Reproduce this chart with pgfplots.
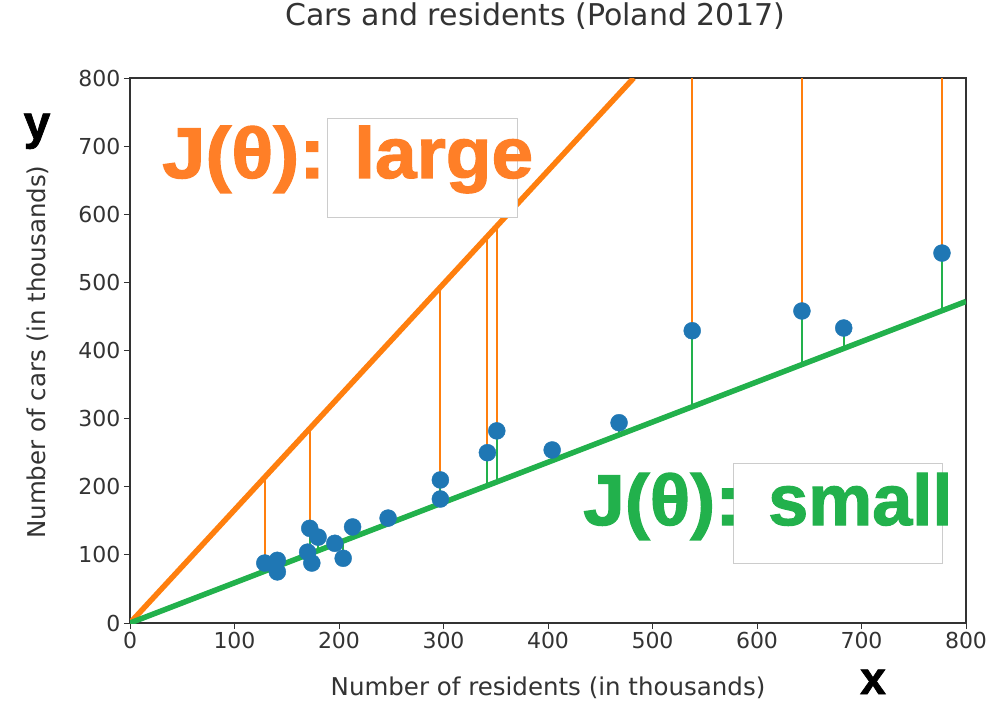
\documentclass[border=0pt]{standalone}
\usepackage{pgfplots}
\pgfplotsset{compat=1.18}
\usepackage{fontspec}
\setmainfont{DejaVu Sans}
\newfontfamily\annfont{Liberation Sans}[BoldFeatures={FakeBold=1.6}]
\definecolor{tblue}{HTML}{1F77B4}
\definecolor{torange}{HTML}{FF7F0E}
\definecolor{tgreen}{HTML}{22B14C}
\definecolor{aorange}{HTML}{FF7F27}
\definecolor{spine}{HTML}{333333}

\pgfplotstableread{
x y
129 88
141 92
141 75
172 139
170 104
174 88
180 126
196 117
204 95
213 141
247 154
297 210
297 182
342 250
351 282
404 254
468 294
538 429
643 458
683 433
777 543
}\cities

\begin{document}
\begin{tikzpicture}
\useasboundingbox (0,0) rectangle (993pt,702pt);
\begin{axis}[
  at={(130pt,79pt)}, anchor=south west,
  scale only axis, width=836pt, height=545pt,
  xmin=0, xmax=800, ymin=0, ymax=800,
  xtick={0,100,...,800}, ytick={0,100,...,800},
  xtick pos=bottom, ytick pos=left,
  tick align=outside, major tick length=6pt,
  every tick/.style={spine, line width=1pt},
  axis line style={spine, line width=1.2pt},
  tick label style={font=\fontsize{22}{26}\selectfont, text=spine},
  /pgf/number format/assume math mode=true,
  xlabel={Number of residents (in thousands)},
  ylabel={Number of cars (in thousands)},
  label style={font=\fontsize{24.5}{28}\selectfont, text=spine},
  x label style={at={(axis description cs:0.5,-0.1193)}, anchor=center},
  y label style={at={(axis description cs:-0.110,0.497)}, anchor=center},
  title={Cars and residents (Poland 2017)},
  title style={at={(axis description cs:0.4845,1.103)}, anchor=center,
    font=\fontsize{30}{34}\selectfont, text=spine},
]
\addplot[only marks, mark=*, mark size=8.5pt,
  mark options={draw=tblue, fill=tblue}] table[x=x, y=y] {\cities};

% residuals to the steep line
\addplot[torange, line width=1.8pt, unbounded coords=jump] coordinates {
(129,88) (129,214) (129,nan)
(172,139) (172,285) (172,nan)
(297,210) (297,493) (297,nan)
(342,250) (342,568) (342,nan)
(351,282) (351,583) (351,nan)
(538,429) (538,900) (538,nan)
(643,458) (643,900) (643,nan)
(777,543) (777,900)
};
% residuals to the flat line
\addplot[tgreen, line width=1.8pt, unbounded coords=jump] coordinates {
(129,88) (129,76.1) (129,nan)
(141,92) (141,83.2) (141,nan)
(141,75) (141,83.2) (141,nan)
(172,139) (172,101.5) (172,nan)
(170,104) (170,100.3) (170,nan)
(174,88) (174,102.7) (174,nan)
(180,126) (180,106.2) (180,nan)
(196,117) (196,115.6) (196,nan)
(204,95) (204,120.4) (204,nan)
(213,141) (213,125.7) (213,nan)
(247,154) (247,145.7) (247,nan)
(297,210) (297,175.2) (297,nan)
(342,250) (342,201.8) (342,nan)
(351,282) (351,207.1) (351,nan)
(404,254) (404,238.4) (404,nan)
(468,294) (468,276.1) (468,nan)
(538,429) (538,317.4) (538,nan)
(643,458) (643,379.4) (643,nan)
(683,433) (683,403.0) (683,nan)
(777,543) (777,458.4)
};
% fitted lines
\addplot[torange, line width=5.5pt] coordinates {(0,0) (482,800)};
\addplot[tgreen, line width=5.5pt] coordinates {(0,0) (800,472)};
\end{axis}

% annotation boxes and labels
\draw[gray!40, line width=0.6pt, fill=white] (327pt,485pt) rectangle (517pt,584pt);
\draw[gray!40, line width=0.6pt, fill=white] (733pt,139pt) rectangle (942pt,239pt);
\node[anchor=base west, inner sep=0pt, text=aorange,
  font=\annfont\bfseries\fontsize{72}{80}\selectfont] at (162pt,524pt) {\scalebox{1.08}[1]{J(θ):}};
\node[anchor=base west, inner sep=0pt, text=aorange,
  font=\annfont\bfseries\fontsize{72}{80}\selectfont] at (354pt,524pt) {\scalebox{1.04}[1]{large}};
\node[anchor=base west, inner sep=0pt, text=tgreen,
  font=\annfont\bfseries\fontsize{72}{80}\selectfont] at (583pt,177pt) {\scalebox{1.04}[1]{J(θ):}};
\node[anchor=base west, inner sep=0pt, text=tgreen,
  font=\annfont\bfseries\fontsize{72}{80}\selectfont] at (768pt,177pt) {small};
\node[anchor=base, inner sep=0pt,
  font=\annfont\bfseries\fontsize{48}{52}\selectfont] at (37pt,563pt) {y};
\node[anchor=base, inner sep=0pt,
  font=\annfont\bfseries\fontsize{46}{50}\selectfont] at (873pt,8pt) {x};
\end{tikzpicture}
\end{document}
